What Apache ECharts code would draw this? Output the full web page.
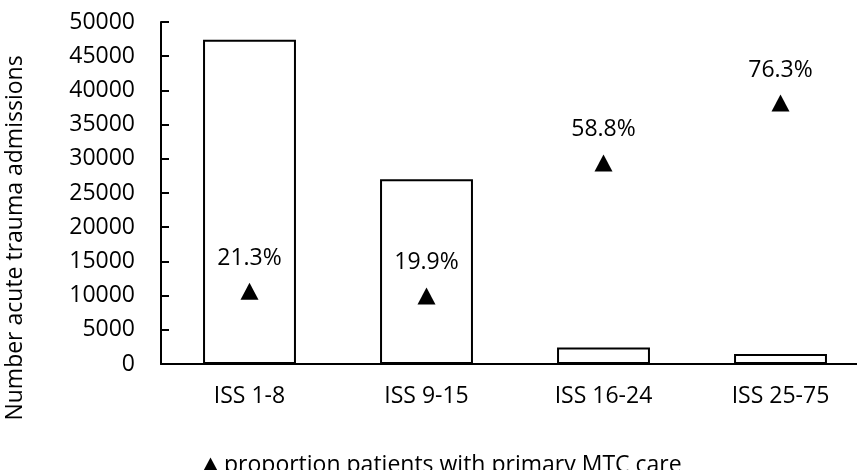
<!DOCTYPE html>
<html>
<head>
<meta charset="utf-8">
<script src="https://cdn.jsdelivr.net/npm/echarts@6/dist/echarts.min.js"></script>
<style>
  html, body { margin: 0; padding: 0; background: #fff; }
  #chart { width: 857px; height: 470px; }
</style>
</head>
<body>
<div id="chart"></div>
<script>
// Injury severity groups
const categories = ['ISS 1-8', 'ISS 9-15', 'ISS 16-24', 'ISS 25-75'];
// Number of acute trauma admissions per group
const admissions = [47400, 27000, 2430, 1460];
// Percentage of patients receiving primary MTC care
const mtcShare = [21.3, 19.9, 58.8, 76.3];
// Left axis tick values
const countTicks = [0, 5000, 10000, 15000, 20000, 25000, 30000, 35000, 40000, 45000, 50000];

const FONT = 'Open Sans';
const FS = 23;
const chart = echarts.init(document.getElementById('chart'), null, { renderer: 'canvas' });

chart.setOption({
  animation: false,
  backgroundColor: '#ffffff',
  textStyle: { fontFamily: FONT, color: '#000' },
  grid: { left: 161, top: 22, width: 708, bottom: 106, containLabel: false, outerBoundsMode: 'none' },
  legend: {
    data: [{ name: 'proportion patients with primary MTC care', icon: 'triangle', itemStyle: { color: '#000', opacity: 1 } }],
    left: 197,
    top: 449,
    itemWidth: 17,
    itemHeight: 16,
    itemGap: 4,
    textStyle: { fontFamily: FONT, fontSize: FS, color: '#000' }
  },
  xAxis: {
    type: 'category',
    data: categories,
    axisLine: { show: true, lineStyle: { color: '#000', width: 2 } },
    axisTick: { show: false },
    axisLabel: { color: '#000', fontSize: FS, margin: 21, fontFamily: FONT },
    splitLine: { show: false }
  },
  yAxis: [
    {
      type: 'value',
      min: countTicks[0],
      max: countTicks[countTicks.length - 1],
      interval: countTicks[1] - countTicks[0],
      axisLine: { show: true, lineStyle: { color: '#000', width: 2 } },
      axisTick: { show: true, inside: true, length: 8, lineStyle: { color: '#000', width: 2 } },
      axisLabel: { color: '#000', fontSize: FS, margin: 26, fontFamily: FONT, formatter: v => String(v) },
      splitLine: { show: false }
    },
    {
      type: 'value',
      min: 0,
      max: 100,
      show: false,
      splitLine: { show: false }
    }
  ],
  series: [
    {
      name: 'Number acute trauma admissions',
      type: 'bar',
      data: admissions,
      barWidth: '52.5%',
      itemStyle: { color: '#ffffff', borderColor: '#000', borderWidth: 2 },
      z: 2
    },
    {
      name: 'proportion patients with primary MTC care',
      type: 'scatter',
      yAxisIndex: 1,
      data: mtcShare,
      symbol: 'triangle',
      symbolSize: [18, 17],
      itemStyle: { color: '#000', opacity: 1 },
      label: {
        show: true,
        position: 'top',
        distance: 13,
        formatter: p => p.value.toFixed(1) + '%',
        color: '#000',
        opacity: 1,
        fontSize: FS,
        fontFamily: FONT
      },
      z: 3
    }
  ],
  graphic: [
    {
      type: 'text',
      x: 15,
      y: 238,
      rotation: Math.PI / 2,
      style: {
        text: 'Number acute trauma admissions',
        font: FS + 'px "' + FONT + '"',
        fill: '#000',
        align: 'center',
        verticalAlign: 'middle',
        textAlign: 'center',
        textVerticalAlign: 'middle'
      }
    }
  ]
});
</script>
</body>
</html>
